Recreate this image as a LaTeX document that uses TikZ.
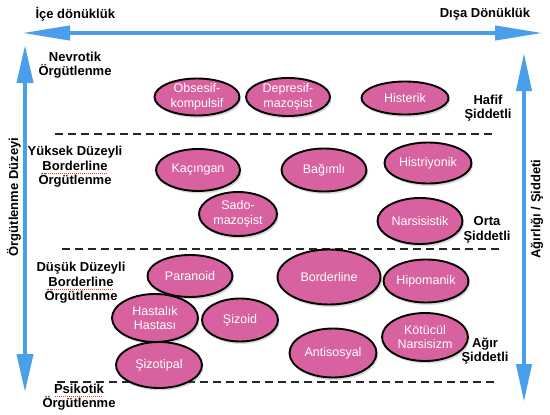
\documentclass[tikz,border=0pt]{standalone}
\usepackage{fontspec}
\setmainfont{Liberation Sans}
\usetikzlibrary{arrows.meta,shapes.geometric,shadows}
\definecolor{axisblue}{HTML}{4A9FEA}
\definecolor{pinkfill}{HTML}{D8629F}
\begin{document}
\begin{tikzpicture}[x=1pt,y=-1pt,
  dis/.style={ellipse, draw=black, line width=1.9pt, fill=pinkfill, text=white,
    font=\fontsize{12.5}{14.5}\selectfont, align=center, inner sep=0pt,
    drop shadow={shadow xshift=1.5pt, shadow yshift=-2.5pt, opacity=0.3}},
  lvl/.style={font=\fontsize{13}{14.5}\selectfont\bfseries, align=center, text=black},
  sepline/.style={dash pattern=on 8pt off 5pt, line width=1.6pt, draw=black!85},
  spell/.style={draw=red!80, line width=0.7pt, dash pattern=on 1pt off 1pt},
  ax/.style={draw=axisblue, line width=4pt}
]
\useasboundingbox (0,0) rectangle (550,415);

% axes
\coordinate (tl) at (22,33);
\coordinate (tr) at (543,33);
\draw[ax, {Triangle[length=48pt,width=14pt]}-{Triangle[length=48pt,width=14pt]}] (tl) -- (tr);
\coordinate (lt) at (25,45);
\coordinate (lb) at (25,392);
\draw[ax, {Triangle[length=38pt,width=16pt]}-{Triangle[length=38pt,width=16pt]}] (lt) -- (lb);
\coordinate (rt) at (524,53);
\coordinate (rb) at (524,402);
\draw[ax, {Triangle[length=38pt,width=15pt]}-{Triangle[length=38pt,width=15pt]}] (rt) -- (rb);

\node[lvl, anchor=west] (ice) at (32,14) {İçe dönüklük};
\node[lvl] (disa) at (485,14) {Dışa Dönüklük};
\node[lvl, rotate=90] (ylab) at (14,197) {Örgütlenme Düzeyi};
\node[lvl, rotate=90] (slab) at (537,209) {Ağırlığı / Şiddeti};

% level labels
\node[lvl] (nev) at (75,65) {Nevrotik\\Örgütlenme};
\node[lvl] (ybo) at (75,167) {Yüksek Düzeyli\\Borderline\\Örgütlenme};
\node[lvl] (dbo) at (81,283) {Düşük Düzeyli\\Borderline\\Örgütlenme};
\node[lvl] (psi) at (79,397) {Psikotik\\Örgütlenme};
\node[lvl] (haf) at (488,108) {Hafif\\Şiddetli};
\node[lvl] (ort) at (487,230) {Orta\\Şiddetli};
\node[lvl] (agi) at (485,351) {Ağır\\Şiddetli};

% spell-check underlines
\coordinate (u1a) at (46,173.5); \coordinate (u1b) at (108,173.5);
\coordinate (u2a) at (50,289.5); \coordinate (u2b) at (113,289.5);
\coordinate (u3a) at (55,396.5); \coordinate (u3b) at (103,396.5);
\draw[spell] (u1a) -- (u1b);
\draw[spell] (u2a) -- (u2b);
\draw[spell] (u3a) -- (u3b);

% separators
\coordinate (s1a) at (55,134); \coordinate (s1b) at (492,134);
\coordinate (s2a) at (62,249); \coordinate (s2b) at (502,249);
\coordinate (s3a) at (57,382); \coordinate (s3b) at (497,382);
\draw[sepline] (s1a) -- (s1b);
\draw[sepline] (s2a) -- (s2b);
\draw[sepline] (s3a) -- (s3b);

% disorders
\node[dis, minimum width=85pt, minimum height=35pt] (obs) at (197,97) {Obsesif-\\kompulsif};
\node[dis, minimum width=84pt, minimum height=38pt] (dep) at (288,97) {Depresif-\\mazoşist};
\node[dis, minimum width=87pt, minimum height=33pt] (his) at (405,98) {Histerik};

\node[dis, minimum width=84pt, minimum height=42pt] (kac) at (198,170) {Kaçıngan};
\node[dis, minimum width=78pt, minimum height=44pt] (sad) at (238,214) {Sado-\\mazoşist};
\node[dis, minimum width=85pt, minimum height=43pt] (bag) at (324,170) {Bağımlı};
\node[dis, minimum width=87pt, minimum height=41pt] (hst) at (428,163) {Histriyonik};
\node[dis, minimum width=85pt, minimum height=46pt] (nar) at (420,221) {Narsisistik};

\node[dis, minimum width=85pt, minimum height=42pt] (par) at (190,276) {Paranoid};
\node[dis, minimum width=103pt, minimum height=55pt] (bor) at (329,277) {Borderline};
\node[dis, minimum width=85pt, minimum height=43pt] (hip) at (426,281) {Hipomanik};
\node[dis, minimum width=86pt, minimum height=48pt] (has) at (155,318) {Hastalık\\Hastası};
\node[dis, minimum width=76pt, minimum height=43pt] (siz) at (240,320) {Şizoid};
\node[dis, minimum width=86pt, minimum height=46pt] (szt) at (159,365) {Şizotipal};
\node[dis, minimum width=87pt, minimum height=49pt] (ant) at (333,353) {Antisosyal};
\node[dis, minimum width=86pt, minimum height=48pt] (kot) at (425,337) {Kötücül\\Narsisizm};
\end{tikzpicture}
\end{document}
